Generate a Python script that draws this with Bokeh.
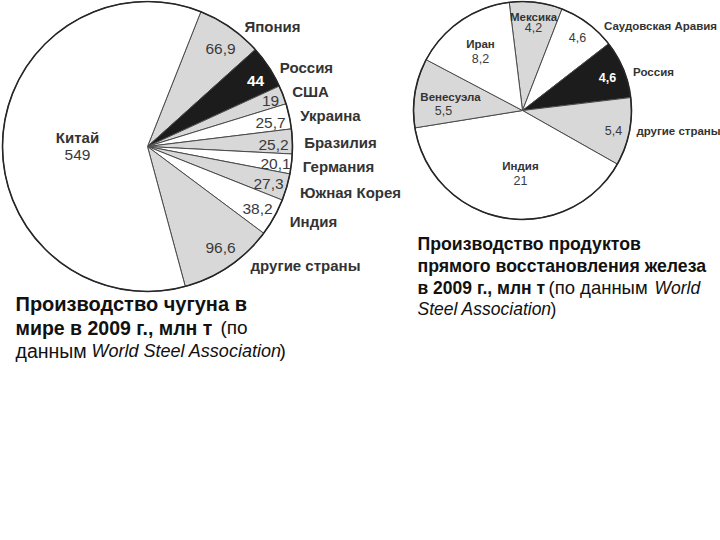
import numpy as np
from bokeh.plotting import figure
from bokeh.models import Range1d
from bokeh.embed import file_html
from bokeh.resources import INLINE
from bokeh.core.properties import value

# ---------------- data ----------------
# Pig iron production 2009, mln t (clockwise from Japan)
pig_countries = ["Япония", "Россия", "США", "Украина", "Бразилия", "Германия",
                 "Южная Корея", "Индия", "другие страны", "Китай"]
pig_values = [66.9, 44, 19, 25.7, 25.2, 20.1, 27.3, 38.2, 96.6, 549]
pig_value_labels = ["66,9", "44", "19", "25,7", "25,2", "20,1", "27,3", "38,2", "96,6", "549"]

# Direct reduced iron production 2009, mln t (clockwise from Mexico)
dri_countries = ["Мексика", "Саудовская Аравия", "Россия", "другие страны",
                 "Индия", "Венесуэла", "Иран"]
dri_values = [4.2, 4.6, 4.6, 5.4, 21, 5.5, 8.2]
dri_value_labels = ["4,2", "4,6", "4,6", "5,4", "21", "5,5", "8,2"]

# ---------------- styles / layout ----------------
GRAY, WHITE, BLACK = "#d8d8d8", "#ffffff", "#1c1c1c"
pig_fills = [GRAY, BLACK, GRAY, WHITE, GRAY, WHITE, GRAY, WHITE, GRAY, WHITE]
dri_fills = [GRAY, WHITE, BLACK, GRAY, WHITE, GRAY, WHITE]

FONT = value("Liberation Sans")
W, H = 720, 540

# pie centres in image pixel coords (y down)
L_CX, L_CY, L_R, L_START = 147, 146, 145, 68.4
R_CX, R_CY, R_R, R_START = 522, 110, 109, 97.0

# label offsets from pie centre (px, y down)
pig_val_off = [(73, -98), (108, -66), (123, -46), (123, -24), (126, -2), (128, 17),
               (121, 37), (110, 62), (73, 101), (-70, 8)]
pig_name_off = [(125, -120), (159, -79), (163, -55), (183, -31), (193, -4), (191, 20),
                (203, 46), (166, 75), (158, 119), (-70, -9)]
dri_val_off = [(11, -83), (55, -73), (85, -33), (91, 20), (-2, 70), (-79, 0), (-42, -52)]
dri_name_off = [(11, -94), (138, -85), (131, -39), (156, 20), (-2, 55), (-72, -14), (-42, -67)]


def wedge_angles(vals, start_deg):
    v = np.asarray(vals, dtype=float)
    frac = v / v.sum() * 2 * np.pi
    cum = np.concatenate([[0.0], np.cumsum(frac)])
    a0 = np.deg2rad(start_deg)
    return a0 - cum[1:], a0 - cum[:-1]


p = figure(width=W, height=H, output_backend="svg", toolbar_location=None,
           x_range=Range1d(0, W), y_range=Range1d(0, H), min_border=0)
p.axis.visible = False
p.grid.visible = False
p.outline_line_color = None
p.background_fill_color = "white"
p.border_fill_color = "white"


def draw_pie(cx, cy, r, start, vals, fills, val_labels, val_off, names, name_off,
             name_size, val_size):
    y = H - cy
    s, e = wedge_angles(vals, start)
    n = len(vals)
    p.wedge(x=[cx] * n, y=[y] * n, radius=r, start_angle=list(s), end_angle=list(e),
            fill_color=fills, line_color="#4a4a4a", line_width=1)
    p.circle(x=[cx], y=[y], radius=r, fill_color=None, line_color="#262626", line_width=1.6)
    for lab, (dx, dy), f in zip(val_labels, val_off, fills):
        black = f == BLACK
        p.text(x=[cx + dx], y=[y - dy], text=[lab], text_font=FONT,
               text_font_size=val_size, text_align="center", text_baseline="middle",
               text_color="white" if black else "#3a3a3a",
               text_font_style="bold" if black else "normal")
    for nm, (dx, dy) in zip(names, name_off):
        p.text(x=[cx + dx], y=[y - dy], text=[nm], text_font=FONT,
               text_font_size=name_size, text_align="center", text_baseline="middle",
               text_color="#333333", text_font_style="bold")


draw_pie(L_CX, L_CY, L_R, L_START, pig_values, pig_fills, pig_value_labels, pig_val_off,
         pig_countries, pig_name_off, "15px", "15.5px")
draw_pie(R_CX, R_CY, R_R, R_START, dri_values, dri_fills, dri_value_labels, dri_val_off,
         dri_countries, dri_name_off, "11.5px", "12.5px")


def seg(x, yimg, txt, style, size):
    p.text(x=[x], y=[H - yimg], text=[txt], text_font=FONT, text_font_size=size,
           text_align="left", text_baseline="middle", text_color="#111111",
           text_font_style=style)


# left caption
seg(15, 303, "Производство чугуна в", "bold", "20px")
seg(15, 327, "мире в 2009 г., млн т", "bold", "19.5px")
seg(220, 327, "(по", "normal", "19px")
seg(15, 350, "данным", "normal", "19.5px")
seg(91, 350, "World Steel Association", "italic", "18px")
seg(279, 350, ")", "normal", "19px")

# right caption
seg(417, 243, "Производство продуктов", "bold", "17.7px")
seg(417, 265, "прямого восстановления железа", "bold", "17.7px")
seg(417, 287, "в 2009 г., млн т", "bold", "17.5px")
seg(548, 287, "(по данным", "normal", "18.5px")
seg(654, 287, "World", "italic", "17.5px")
seg(417, 308, "Steel Association", "italic", "17.5px")
seg(550, 308, ")", "normal", "17.5px")

open("out.html", "w").write(file_html(p, INLINE))
